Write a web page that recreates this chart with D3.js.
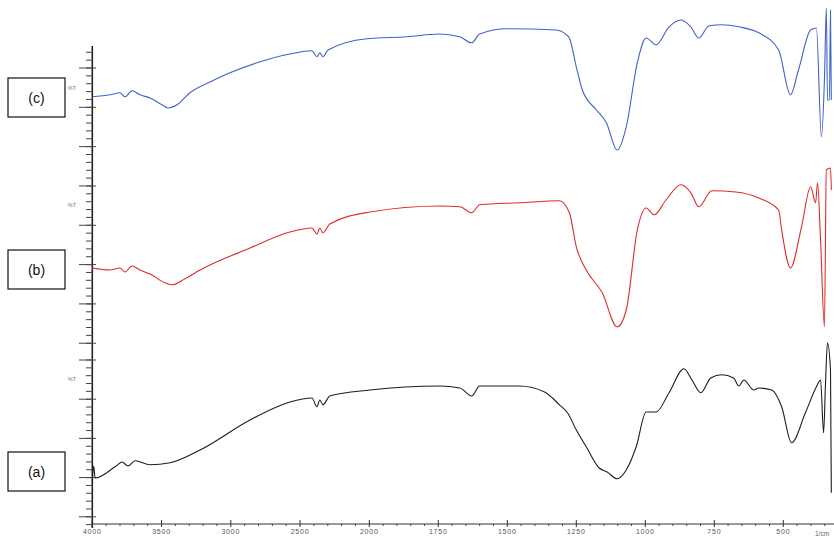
<!DOCTYPE html>
<html lang="en">
<head>
<meta charset="utf-8">
<title>FTIR spectra (a), (b), (c)</title>
<script src="https://cdn.jsdelivr.net/npm/d3@7"></script>
<style>
  body { margin: 0; background: #fff; }
  svg { display: block; font-family: "Liberation Sans", Arial, sans-serif; }
</style>
</head>
<body>
<script>
// wavenumber (1/cm) and transmittance (stacked, arbitrary %T offset units)
var wnC = [4000,3872,3800,3764,3713,3656,3583,3497,3453,3388,3295,3150,3006,2811,2573,2414,2378,2357,2335,2298,2017,1864,1745,1672,1629,1600,1502,1322,1286,1275,1250,1228,1177,1141,1102,1069,1029,997,961,914,871,835,806,770,723,661,589,517,474,445,401,380,362,351,344,340,333,329,326];
var tC  = [108.3,108.8,109.3,108.3,109.8,108.8,108,106.3,105.5,106.3,109.3,112,114.3,116.8,119,119.8,118.3,119.3,118.3,120,122.8,123.3,124,123.3,121.8,124,125.3,125,123.8,123,115.8,110,105,101.8,95,100.8,116.8,123,121.3,125.8,127.5,125.8,123,126,126.3,125.8,124.3,120,108.8,115,125,125.5,98.3,112.5,130.5,107.5,107.5,130,107.5];

var wnB = [4000,3872,3800,3764,3713,3656,3583,3475,3424,3331,3222,2861,2573,2414,2378,2357,2335,2285,1997,1745,1672,1629,1600,1455,1311,1275,1250,1214,1156,1102,1069,1029,997,968,925,871,835,806,759,672,589,517,506,474,434,401,383,376,365,351,344,329,326];
var tB  = [65.5,65,65.5,64.5,66,65,64,61.8,61.3,62.8,65,70.5,74.5,75.5,74,75.5,74.3,76.5,79.5,81,80.8,79.3,81.3,81.8,82.3,79.3,70.8,65,59.3,50.8,55,75,80.5,78.8,82.5,86.3,84.3,80.8,84.8,84.5,83,80,75,65.5,75.8,85.8,81.8,86.8,72.5,50.8,90,90.5,85];

var wnA = [4000,3990,3980,3836,3785,3742,3691,3583,3439,3222,2861,2573,2414,2378,2357,2335,2285,1997,1745,1672,1629,1600,1455,1365,1311,1282,1250,1214,1167,1138,1102,1069,1033,997,961,914,860,831,799,763,723,680,661,643,607,589,542,506,470,420,380,365,354,347,340,329,326];
var tA  = [12,16,13,15.8,17,16,17.3,16.3,16.8,20,27.5,32,33,30.8,32.5,31.3,33.5,35,36,35.5,33.5,36,36,34.5,31.3,29.3,25,20.8,15.5,14.5,12.8,15,20.8,29.5,29.5,34.3,40.3,37.5,34.3,38,38.8,38,36,37.5,35,35.5,35,30.8,21.8,29.3,35.8,37.5,24.3,36.8,46.8,40,9.3];

var majorTicks = [4000,3500,3000,2500,2000,1750,1500,1250,1000,750,500];
var sampleLabels = ["(c)","(b)","(a)"];
var sampleColors = ["#3f63c8","#e02a2a","#1e1e1e"];

var w = 834, h = 539;

var svg = d3.select("body").append("svg")
  .attr("width", w).attr("height", h);

// FTIR style axis: scale change at 2000 1/cm
var x = d3.scaleLinear()
  .domain([4000, 2000, 500])
  .range([92.3, 369.3, 783.3]);

var y = d3.scaleLinear()
  .domain([0, 130])
  .range([530, 10]);

var axisY = 524;

// x axis
var gx = svg.append("g");
gx.append("line")
  .attr("x1", x(4000)).attr("x2", w)
  .attr("y1", axisY).attr("y2", axisY)
  .attr("stroke", "#333").attr("stroke-width", 1);

var minorX = d3.range(4000, 2000, -100).concat(d3.range(2000, 300, -50))
  .filter(function(d) { return majorTicks.indexOf(d) < 0; });

gx.selectAll("line.minor").data(minorX).enter().append("line")
  .attr("class", "minor")
  .attr("x1", function(d) { return x(d); }).attr("x2", function(d) { return x(d); })
  .attr("y1", axisY).attr("y2", axisY + 2)
  .attr("stroke", "#444");

gx.selectAll("line.major").data(majorTicks).enter().append("line")
  .attr("class", "major")
  .attr("x1", function(d) { return x(d); }).attr("x2", function(d) { return x(d); })
  .attr("y1", axisY - 4).attr("y2", axisY + 3)
  .attr("stroke", "#333");

gx.selectAll("text.tick").data(majorTicks).enter().append("text")
  .attr("class", "tick")
  .attr("x", function(d) { return x(d); })
  .attr("y", axisY + 10)
  .attr("text-anchor", "middle")
  .attr("font-size", 7)
  .attr("letter-spacing", 0.8)
  .attr("fill", "#555")
  .text(function(d) { return d; });

svg.append("text")
  .attr("x", 815).attr("y", 536)
  .attr("font-size", 6.5)
  .attr("fill", "#666")
  .text("1/cm");

// y axis (two stacked blocks of ticks)
var gy = svg.append("g");
gy.append("line")
  .attr("x1", 92.3).attr("x2", 92.3)
  .attr("y1", 46).attr("y2", 528)
  .attr("stroke", "#222").attr("stroke-width", 1.6);

var upperStep = 9.83, lowerStep = 9.8;
var upperMajor = d3.range(0, 8).map(function(i) { return 115.5 - i * upperStep; });
var lowerMajor = d3.range(0, 5).map(function(i) { return 42.5 - i * lowerStep; });
var upperMinor = d3.range(-2, 39).map(function(i) { return 115.5 - i * upperStep / 5; })
  .filter(function(v) { return v > 45 && v < 121; });
var lowerMinor = d3.range(0, 22).map(function(i) { return 42.5 - i * lowerStep / 5; })
  .filter(function(v) { return v > 0.5; });

gy.selectAll("line.minor").data(upperMinor.concat(lowerMinor)).enter().append("line")
  .attr("class", "minor")
  .attr("x1", 86).attr("x2", 93)
  .attr("y1", function(d) { return y(d); }).attr("y2", function(d) { return y(d); })
  .attr("stroke", "#444");

gy.selectAll("line.major").data(upperMajor.concat(lowerMajor)).enter().append("line")
  .attr("class", "major")
  .attr("x1", 79).attr("x2", 96)
  .attr("y1", function(d) { return y(d); }).attr("y2", function(d) { return y(d); })
  .attr("stroke", "#444");

// faint %T labels
var pctT = [110.5, 81.3, 37.8];
svg.selectAll("text.pct").data(pctT).enter().append("text")
  .attr("class", "pct")
  .attr("x", 76).attr("y", function(d) { return y(d) + 2; })
  .attr("text-anchor", "end")
  .attr("font-size", 5.5)
  .attr("fill", "#777")
  .text("%T");

// spectra
var line = d3.line()
  .x(function(d) { return x(d[0]); })
  .y(function(d) { return y(d[1]); })
  .curve(d3.curveMonotoneX);

var series = [d3.zip(wnC, tC), d3.zip(wnB, tB), d3.zip(wnA, tA)];

svg.selectAll("path.spec").data(series).enter().append("path")
  .attr("class", "spec")
  .attr("d", line)
  .attr("fill", "none")
  .attr("stroke", function(d, i) { return sampleColors[i]; })
  .attr("stroke-width", 1.1)
  .attr("stroke-linejoin", "round");

// sample label boxes
var boxY = [108, 65, 14.5];
var boxes = svg.selectAll("g.lab").data(sampleLabels).enter().append("g")
  .attr("class", "lab")
  .attr("transform", function(d, i) { return "translate(8," + (y(boxY[i]) - 20) + ")"; });

boxes.append("rect")
  .attr("width", 57).attr("height", 39)
  .attr("fill", "#fff")
  .attr("stroke", "#111").attr("stroke-width", 1.2);

boxes.append("text")
  .attr("x", 28.5).attr("y", 24.5)
  .attr("text-anchor", "middle")
  .attr("font-size", 14)
  .attr("fill", "#111")
  .text(function(d) { return d; });
</script>
</body>
</html>
